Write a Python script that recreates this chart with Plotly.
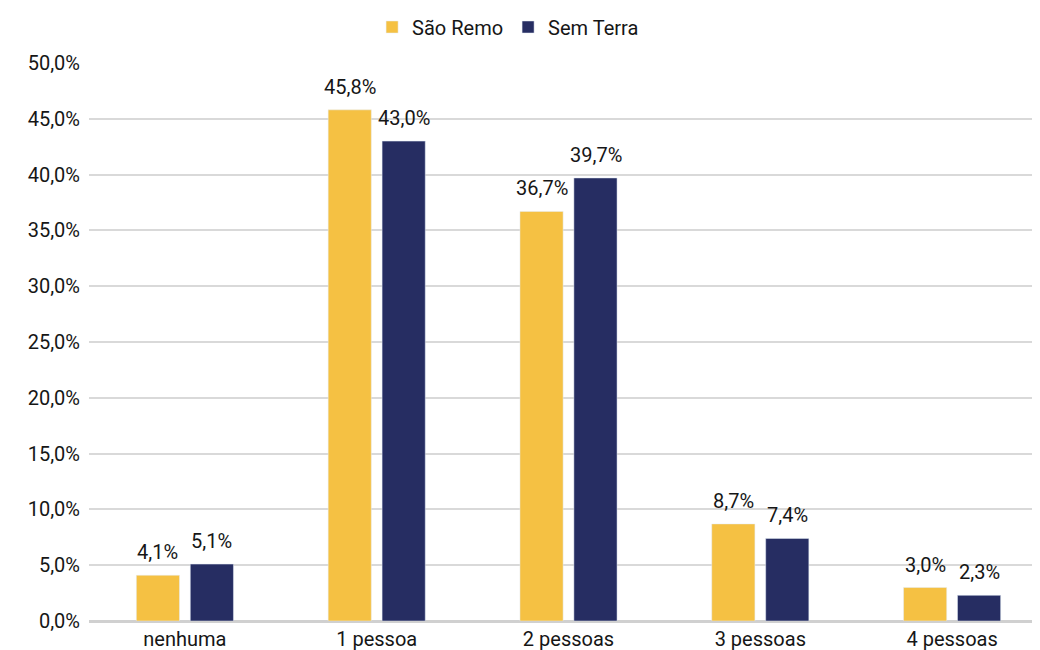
import plotly.graph_objects as go

categories = ["nenhuma", "1 pessoa", "2 pessoas", "3 pessoas", "4 pessoas"]
sao_remo = [4.1, 45.8, 36.7, 8.7, 3.0]
sem_terra = [5.1, 43.0, 39.7, 7.4, 2.3]
series_names = ["São Remo", "Sem Terra"]
colors = ["#F5C143", "#262D62"]

FONT = "Roboto"
FS = 20

fig = go.Figure()
for name, vals, col in zip(series_names, [sao_remo, sem_terra], colors):
    fig.add_trace(go.Bar(
        x=categories, y=vals, name=name, marker_color=col,
        cliponaxis=False,
    ))

# value labels above bars
for vals, shift in zip([sao_remo, sem_terra], [-27, 27]):
    for cat, v in zip(categories, vals):
        fig.add_annotation(
            x=cat, y=v, xref="x", yref="y", xshift=shift, yshift=23,
            text=f"{v:.1f}%".replace(".", ","), showarrow=False,
            yanchor="middle", xanchor="center",
            font=dict(size=FS, color="#161616", family=FONT),
        )

fig.update_layout(
    width=1040, height=650,
    margin=dict(l=81, r=0, t=55, b=37, autoexpand=False),
    paper_bgcolor="white", plot_bgcolor="white",
    separators=",.",
    barmode="group", bargap=0.4375, bargroupgap=0.2,
    font=dict(family=FONT, size=FS, color="#161616"),
    legend=dict(orientation="h", x=0.437, xanchor="center", y=1.0645, yanchor="middle",
                font=dict(size=FS, family=FONT), itemwidth=30,
                traceorder="normal"),
    showlegend=True,
)
fig.update_yaxes(range=[0, 50], dtick=5, tickformat=".1f", ticksuffix="%",
                 showgrid=True, gridcolor="#D9D9D9", gridwidth=1.5,
                 zeroline=True, zerolinecolor="#D0D0D0", zerolinewidth=3,
                 tickfont=dict(size=FS), ticks="", ticklabelstandoff=8, automargin=False)
fig.update_xaxes(range=[-0.5, 4.5], tickfont=dict(size=FS), showline=False, ticks="",
                 ticklabelstandoff=4, automargin=False)

fig.write_html("out.html")
